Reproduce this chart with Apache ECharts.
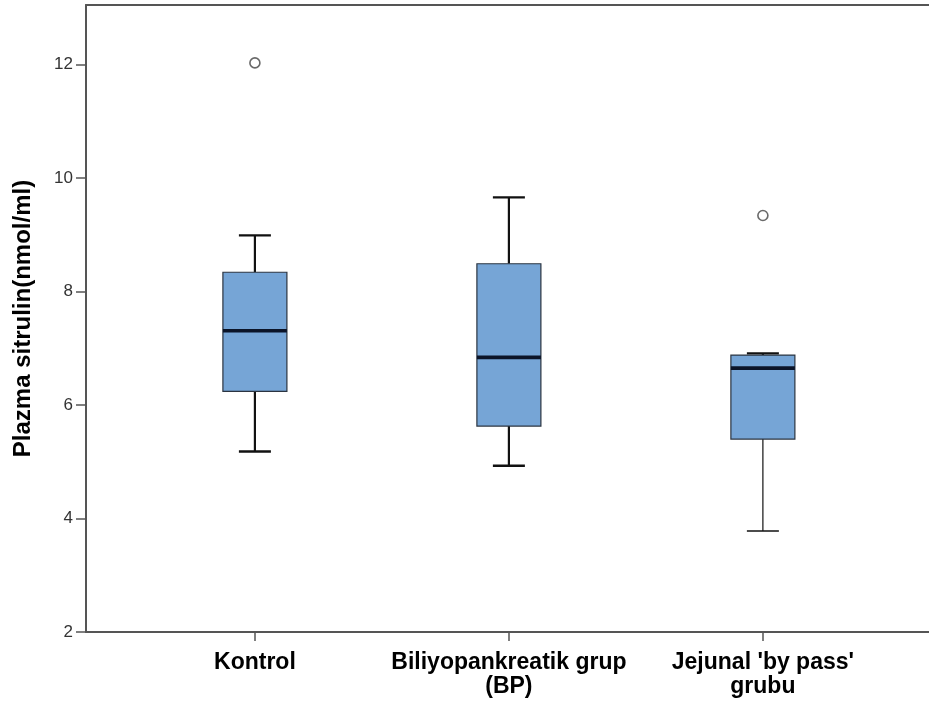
<!DOCTYPE html>
<html>
<head>
<meta charset="utf-8">
<script src="https://cdn.jsdelivr.net/npm/echarts@6/dist/echarts.min.js"></script>
<style>
html,body{margin:0;padding:0;background:#fff;}
#chart{width:929px;height:706px;}
</style>
</head>
<body>
<div id="chart"></div>
<script>
const categories = ['Kontrol', 'Biliyopankreatik grup\n(BP)', "Jejunal 'by pass'\ngrubu"];
const whiskerLow = [5.18, 4.93, 3.78];
const q1 = [6.24, 5.63, 5.40];
const median = [7.31, 6.84, 6.65];
const q3 = [8.34, 8.49, 6.88];
const whiskerHigh = [8.99, 9.66, 6.91];
const outliers = [[0, 12.03], [2, 9.34]];
const yTicks = [2, 4, 6, 8, 10, 12];
const xTicks = [0, 1, 2];

const boxData = categories.map((c, i) => [i, whiskerLow[i], q1[i], median[i], q3[i], whiskerHigh[i]]);

const chart = echarts.init(document.getElementById('chart'));
const FONT = "'Liberation Sans', Arial, sans-serif";

function renderBox(params, api) {
  const idx = api.value(0);
  const pLow = api.coord([idx, api.value(1)]);
  const pQ1 = api.coord([idx, api.value(2)]);
  const pMed = api.coord([idx, api.value(3)]);
  const pQ3 = api.coord([idx, api.value(4)]);
  const pHigh = api.coord([idx, api.value(5)]);
  const cx = pMed[0];
  const halfBox = 32, halfCap = 16;
  const lowW = idx === 2 ? 1.2 : 2.2;
  const children = [
    {type: 'line', shape: {x1: cx, y1: pQ3[1], x2: cx, y2: pHigh[1]}, style: {stroke: '#111', lineWidth: 2.2}},
    {type: 'line', shape: {x1: cx - halfCap, y1: pHigh[1], x2: cx + halfCap, y2: pHigh[1]}, style: {stroke: '#111', lineWidth: 2.4}},
    {type: 'line', shape: {x1: cx, y1: pQ1[1], x2: cx, y2: pLow[1]}, style: {stroke: '#111', lineWidth: lowW}},
    {type: 'line', shape: {x1: cx - halfCap, y1: pLow[1], x2: cx + halfCap, y2: pLow[1]}, style: {stroke: '#111', lineWidth: lowW + 0.2}},
    {type: 'rect', shape: {x: cx - halfBox, y: pQ3[1], width: halfBox * 2, height: pQ1[1] - pQ3[1]},
      style: {fill: '#76a5d6', stroke: '#2b3440', lineWidth: 1.2}},
    {type: 'line', shape: {x1: cx - halfBox, y1: pMed[1], x2: cx + halfBox, y2: pMed[1]}, style: {stroke: '#0b1428', lineWidth: 3.6}}
  ];
  return {type: 'group', children: children};
}

chart.setOption({
  animation: false,
  backgroundColor: '#fff',
  grid: {left: 86, right: 0, top: 5, bottom: 74},
  xAxis: [{
    type: 'value',
    min: -0.665,
    max: 2.654,
    splitLine: {show: false},
    axisLine: {show: true, onZero: false, lineStyle: {color: '#555', width: 2}},
    axisTick: {show: true, customValues: xTicks, length: 9, lineStyle: {color: '#555', width: 1.5}},
    axisLabel: {
      show: true,
      customValues: xTicks,
      formatter: v => categories[Math.round(v)],
      fontFamily: FONT, fontWeight: 'bold', fontSize: 23, color: '#000',
      lineHeight: 24, margin: 19
    }
  }, {
    type: 'value',
    position: 'top',
    min: -0.665,
    max: 2.654,
    splitLine: {show: false},
    axisLine: {show: true, onZero: false, lineStyle: {color: '#555', width: 2}},
    axisTick: {show: false},
    axisLabel: {show: false}
  }],
  yAxis: {
    type: 'value',
    min: 2,
    max: 13.05,
    interval: 2,
    name: 'Plazma sitrulin(nmol/ml)',
    nameLocation: 'middle',
    nameGap: 51,
    nameTextStyle: {fontFamily: FONT, fontWeight: 'bold', fontSize: 24, color: '#000'},
    splitLine: {show: false},
    axisLine: {show: true, onZero: false, lineStyle: {color: '#555', width: 2}},
    axisTick: {show: true, customValues: yTicks, length: 10, lineStyle: {color: '#555', width: 1.5}},
    axisLabel: {show: true, customValues: yTicks, fontFamily: FONT, fontSize: 17, color: '#333', margin: 13}
  },
  series: [{
    type: 'custom',
    renderItem: renderBox,
    data: boxData,
    encode: {x: 0, y: [1, 2, 3, 4, 5]},
    z: 2
  }, {
    type: 'scatter',
    data: outliers,
    symbol: 'circle',
    symbolSize: 10,
    itemStyle: {color: '#fff', borderColor: '#444', borderWidth: 1.6},
    z: 3
  }]
});
</script>
</body>
</html>
